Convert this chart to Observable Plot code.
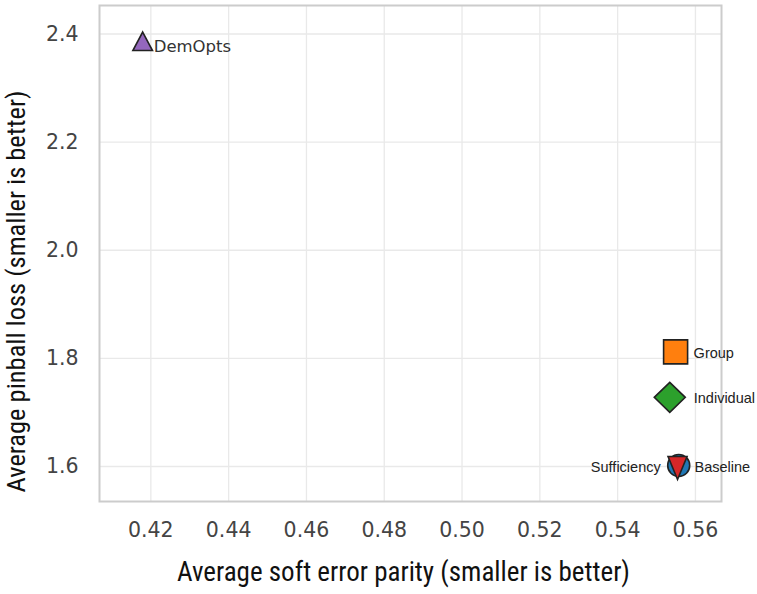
<!DOCTYPE html>
<html>
<head>
<meta charset="utf-8">
<script src="https://cdn.jsdelivr.net/npm/d3@7"></script>
<script src="https://cdn.jsdelivr.net/npm/@observablehq/plot@0.6"></script>
<style>
  html, body { margin: 0; padding: 0; background: #fff; }
</style>
</head>
<body>
<div id="chart"></div>
<script>
// Methods compared: fairness (soft error parity) vs accuracy (pinball loss)
const methods = ["Sufficiency", "Baseline", "Group", "Individual", "DemOpts"];
const errorParity = [0.5557, 0.5554, 0.5549, 0.5534, 0.4179];
const pinballLoss = [1.602, 1.600, 1.812, 1.728, 2.386];

const xTicks = [0.42, 0.44, 0.46, 0.48, 0.50, 0.52, 0.54, 0.56];
const yTicks = [1.6, 1.8, 2.0, 2.2, 2.4];

const xTitle = "Average soft error parity (smaller is better)";
const yTitle = "Average pinball loss (smaller is better)";

const rows = methods.map((m, i) => ({method: m, x: errorParity[i], y: pinballLoss[i]}));

// Marker shapes (drawn around the data position)
const shape = (pts) => ({
  draw(ctx) {
    ctx.moveTo(pts[0][0], pts[0][1]);
    for (let k = 1; k < pts.length; ++k) ctx.lineTo(pts[k][0], pts[k][1]);
    ctx.closePath();
  }
});
const triUp = shape([[0, -9.5], [9.8, 9], [-9.8, 9]]);
const triDown = shape([[-9.5, -10], [9.5, -10], [0, 13]]);
const square = shape([[-12, -12], [12, -12], [12, 12], [-12, 12]]);
const diamond = shape([[0, -15], [15.5, 0], [0, 15], [-15.5, 0]]);

const only = (name) => rows.filter(d => d.method === name);
const outline = {stroke: "#222", strokeWidth: 1.6};
const titleFont = "Liberation Sans Narrow, Roboto Condensed, Roboto, sans-serif";
const pointFont = "Liberation Sans, Arial, sans-serif";

const chart = Plot.plot({
  width: 757,
  height: 594,
  marginLeft: 99,
  marginRight: 36,
  marginTop: 5,
  marginBottom: 93,
  style: {fontFamily: "DejaVu Sans", background: "#fff"},
  x: {domain: [0.4068, 0.5667]},
  y: {domain: [1.5353, 2.4527]},
  marks: [
    Plot.gridX(xTicks, {stroke: "#e9e9e9", strokeOpacity: 1, strokeWidth: 1.3}),
    Plot.gridY(yTicks, {stroke: "#e9e9e9", strokeOpacity: 1, strokeWidth: 1.3}),
    Plot.frame({stroke: "#cccccc", strokeWidth: 2}),
    Plot.axisX(xTicks, {tickSize: 0, tickPadding: 21, fontSize: 20.5, color: "#444", label: null, tickFormat: d3.format(".2f")}),
    Plot.axisY(yTicks, {tickSize: 0, tickPadding: 21, fontSize: 20.5, color: "#444", label: null, tickFormat: d3.format(".1f")}),
    Plot.text([xTitle], {frameAnchor: "bottom", dx: -7, dy: 79, text: d => d, fontSize: 27, fill: "#111", fontFamily: titleFont}),
    Plot.text([yTitle], {frameAnchor: "left", textAnchor: "middle", dx: -83, dy: 38, rotate: -90, text: d => d, fontSize: 26.5, fill: "#111", fontFamily: titleFont}),
    // markers
    Plot.dot(only("Sufficiency"), {x: "x", y: "y", r: 11, fill: "#1f77b4", ...outline}),
    Plot.dot(only("Baseline"), {x: "x", y: "y", symbol: triDown, r: 10, fill: "#d62728", ...outline}),
    Plot.dot(only("Group"), {x: "x", y: "y", symbol: square, r: 12, fill: "#ff7f0e", ...outline}),
    Plot.dot(only("Individual"), {x: "x", y: "y", symbol: diamond, r: 15, fill: "#2ca02c", ...outline}),
    Plot.dot(only("DemOpts"), {x: "x", y: "y", symbol: triUp, r: 10, fill: "#9467bd", ...outline}),
    // labels
    Plot.text(only("DemOpts"), {x: "x", y: "y", text: "method", textAnchor: "start", dx: 11, dy: 5, fontSize: 16.5, fill: "#333"}),
    Plot.text(only("Group"), {x: "x", y: "y", text: "method", textAnchor: "start", dx: 18, dy: 1.5, fontSize: 14.5, fill: "#222", fontFamily: pointFont}),
    Plot.text(only("Individual"), {x: "x", y: "y", text: "method", textAnchor: "start", dx: 24, dy: 1, fontSize: 14.5, fill: "#222", fontFamily: pointFont}),
    Plot.text(only("Baseline"), {x: "x", y: "y", text: "method", textAnchor: "start", dx: 17, dy: 0.5, fontSize: 14.5, fill: "#222", fontFamily: pointFont}),
    Plot.text(only("Sufficiency"), {x: "x", y: "y", text: "method", textAnchor: "end", dx: -18, dy: 1.5, fontSize: 14.5, fill: "#222", fontFamily: pointFont})
  ]
});

document.getElementById("chart").appendChild(chart);
</script>
</body>
</html>
